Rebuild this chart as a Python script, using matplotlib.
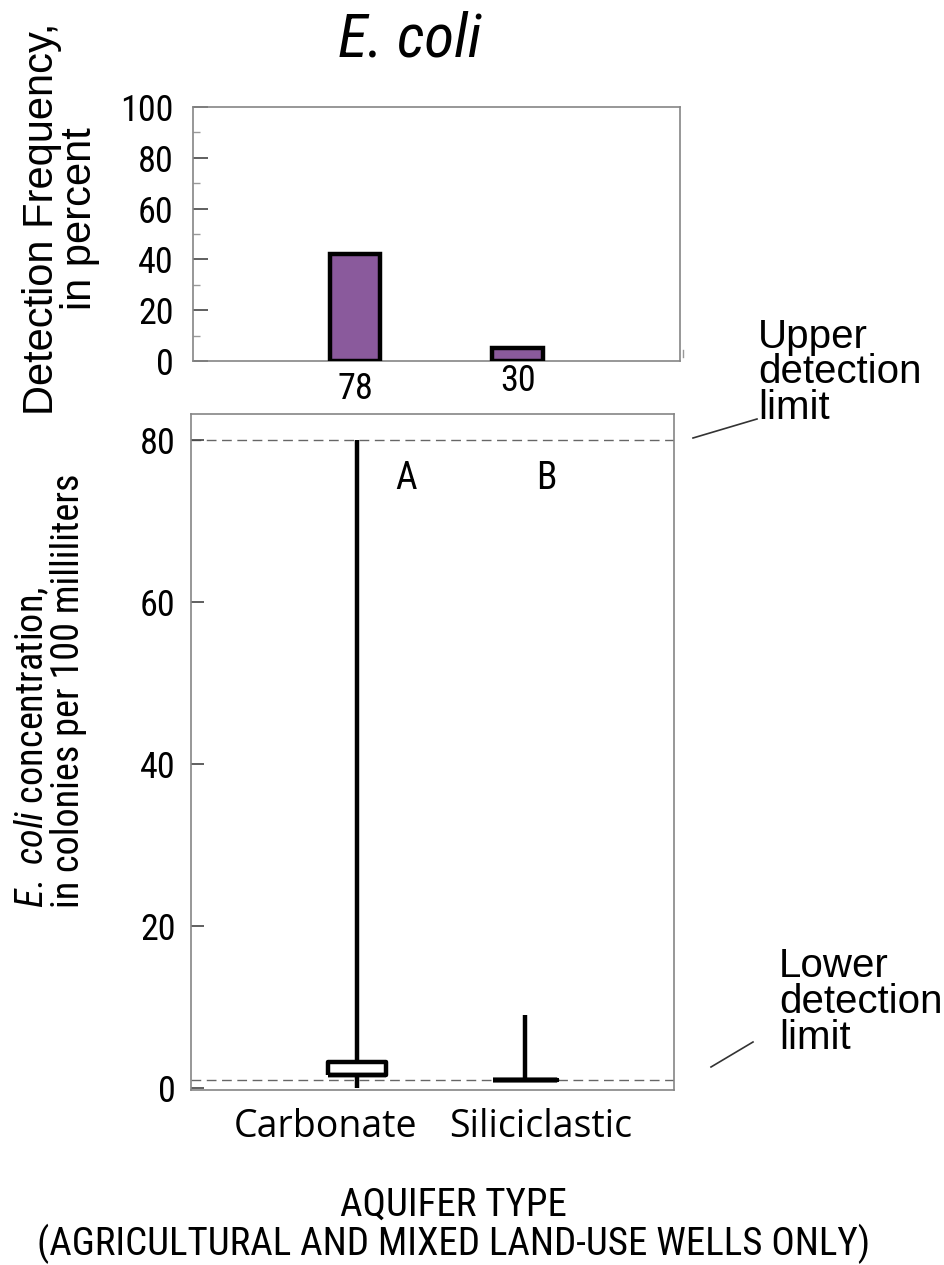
import matplotlib
matplotlib.use("Agg")
import matplotlib.pyplot as plt
from matplotlib import font_manager


def pick_font(names):
    """Return the first installed family from names."""
    for name in names:
        try:
            font_manager.findfont(font_manager.FontProperties(family=name),
                                  fallback_to_default=False)
            return name
        except Exception:
            continue
    return "DejaVu Sans"


NARROW = pick_font(["Liberation Sans Narrow", "Roboto Condensed", "Liberation Sans"])
REGULAR = pick_font(["Liberation Sans", "Arial", "DejaVu Sans"])
HUMANIST = pick_font(["Open Sans", "Noto Sans", "DejaVu Sans"])

plt.rcParams["mathtext.fontset"] = "custom"
plt.rcParams["mathtext.it"] = NARROW + ":italic"
plt.rcParams["mathtext.rm"] = NARROW

# detection frequency (percent) and number of wells per aquifer type
aquifers = ["Carbonate", "Siliciclastic"]
well_counts = [78, 30]
detect_pct = [42, 5]

# boxplot summary of E. coli concentration (colonies per 100 mL)
box_q1 = [1.5, 1.0]
box_med = [1.5, 1.0]
box_q3 = [3.2, 1.0]
whisk_lo = [0.0, 1.0]
whisk_hi = [80.0, 9.0]
group_letters = ["A", "B"]

lower_limit = 1.0
upper_limit = 80.0

positions = [1, 2]

fig = plt.figure(figsize=(9.44, 12.65), dpi=100)
spine_col = "#858585"

# ---- top panel: detection frequency bars ----
ax1 = fig.add_axes([0.2044, 0.7146, 0.5159, 0.2008])
ax1.bar(positions, detect_pct, width=0.31, color="#8a5a9c",
        edgecolor="black", linewidth=3.2, zorder=3)
ax1.set_xlim(0, 3)
ax1.set_ylim(0, 100)
ax1.set_yticks([0, 20, 40, 60, 80, 100])
ax1.set_yticks([10, 30, 50, 70, 90], minor=True)
ax1.set_xticks([])
ax1.tick_params(axis="y", which="major", direction="in", length=11, width=1.2,
                color="#444444", pad=14, labelsize=26)
ax1.tick_params(axis="y", which="minor", direction="in", length=5, width=1,
                color="#999999")
for lab in ax1.get_yticklabels():
    lab.set_fontfamily(NARROW)
for sp in ax1.spines.values():
    sp.set_color(spine_col)
    sp.set_linewidth(1.2)
ax1.set_ylabel("Detection Frequency,\nin percent", fontsize=30,
               family=REGULAR, linespacing=0.95)
ax1.yaxis.set_label_coords(-0.19, 0.56)
for x, n, dy in zip(positions, well_counts, [-0.11, -0.08]):
    ax1.text(x, dy, str(n), transform=ax1.get_xaxis_transform(),
             ha="center", va="center", fontsize=26, family=NARROW)
# small stray mark just right of the frame
ax1.plot([3.02, 3.02], [1.5, 4.5], color="#999999", lw=1, clip_on=False)

fig.text(0.434, 0.969, "E. coli", ha="center", va="center", fontsize=44,
         family=NARROW, style="italic")

# ---- bottom panel: concentration boxplots ----
ax2 = fig.add_axes([0.2023, 0.1383, 0.5117, 0.5344])
stats = []
for i in range(len(aquifers)):
    stats.append({"med": box_med[i], "q1": box_q1[i], "q3": box_q3[i],
                  "whislo": whisk_lo[i], "whishi": whisk_hi[i],
                  "fliers": [], "label": aquifers[i]})
line_kw = {"color": "black", "linewidth": 3.2, "solid_capstyle": "butt"}
ax2.bxp(stats, positions=positions, widths=[0.35, 0.38], showcaps=False,
        showfliers=False, patch_artist=False,
        boxprops=line_kw, whiskerprops=line_kw, medianprops=line_kw,
        manage_ticks=False, zorder=3)
ax2.axhline(upper_limit, color="#666666", lw=1, dashes=(7, 4), zorder=1)
ax2.axhline(lower_limit, color="#666666", lw=1, dashes=(7, 4), zorder=1)
ax2.set_xlim(0.01, 2.89)
ax2.set_ylim(-0.3, 83.2)
ax2.set_yticks([0, 20, 40, 60, 80])
ax2.set_xticks([])
ax2.tick_params(axis="y", direction="in", length=9, width=1.2,
                color="#444444", pad=11, labelsize=26)
for lab in ax2.get_yticklabels():
    lab.set_fontfamily(NARROW)
for sp in ax2.spines.values():
    sp.set_color(spine_col)
    sp.set_linewidth(1.2)

for x, letter in zip([1.29, 2.13], group_letters):
    ax2.text(x, 75.2, letter, ha="center", va="center", fontsize=27,
             family=NARROW)

ax2.set_ylabel("$\\mathit{E.\\ coli}$ concentration,\n"
               "in colonies per 100 milliliters",
               fontsize=27.5, family=NARROW, linespacing=0.95,
               multialignment="left")
ax2.yaxis.set_label_coords(-0.215, 0.59)

for xf, name in zip([0.345, 0.573], aquifers):
    fig.text(xf, 0.109, name, ha="center", va="center", fontsize=27,
             family=HUMANIST)

fig.text(0.48, 0.047, "AQUIFER TYPE", ha="center", va="center",
         fontsize=28, family=NARROW)
fig.text(0.48, 0.0165, "(AGRICULTURAL AND MIXED LAND-USE WELLS ONLY)",
         ha="center", va="center", fontsize=28, family=NARROW)

# detection limit callouts
fig.text(0.803, 0.749, "Upper\ndetection\nlimit", ha="left", va="top",
         fontsize=29, family=REGULAR, linespacing=0.93)
fig.add_artist(plt.Line2D([693 / 944, 757 / 944],
                          [1 - 438 / 1265, 1 - 419 / 1265],
                          color="#333333", lw=1.2))
fig.text(0.825, 0.251, "Lower\ndetection\nlimit", ha="left", va="top",
         fontsize=29, family=REGULAR, linespacing=0.93)
fig.add_artist(plt.Line2D([711 / 944, 753 / 944],
                          [1 - 1067 / 1265, 1 - 1042 / 1265],
                          color="#333333", lw=1.2))

fig.savefig("out.png", dpi=100, facecolor="white")
